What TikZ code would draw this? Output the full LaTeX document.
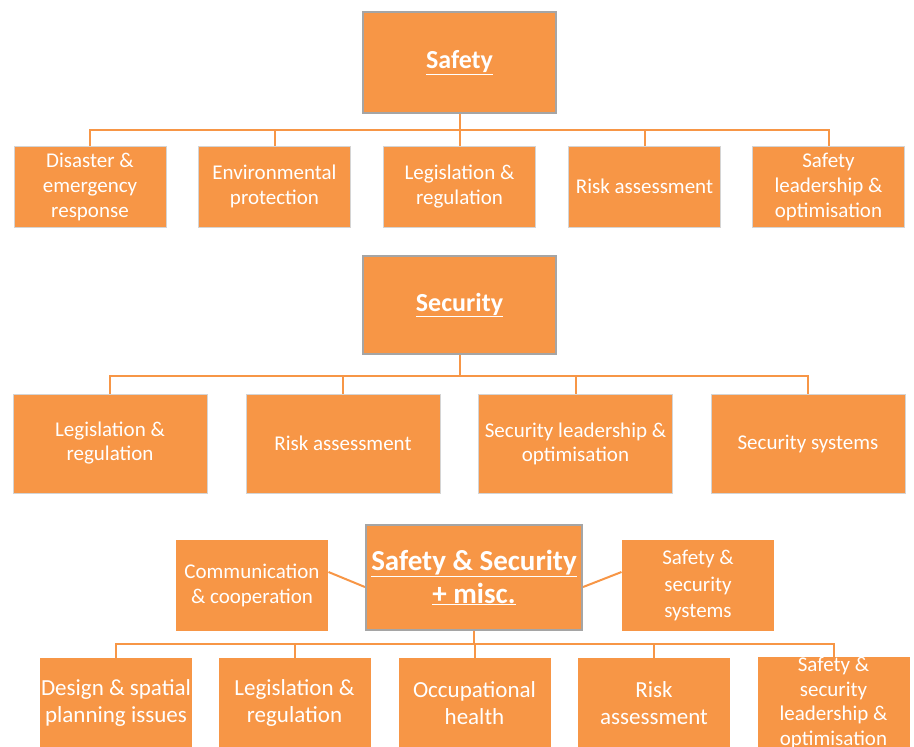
\documentclass[tikz,border=0pt]{standalone}
\usepackage{fontspec}
\setmainfont{Carlito}
\definecolor{boxorange}{HTML}{F79646}
\definecolor{boxgray}{HTML}{A5A5A5}
\definecolor{edgegray}{HTML}{D4D4D4}
\tikzset{every picture/.style={line width=0.75pt}}
\tikzset{
  topic/.style={fill=boxorange, draw=boxgray, line width=2.5pt, text=white, align=center, inner sep=0pt, font=\bfseries\fontsize{26}{30}\selectfont},
  sub/.style={fill=boxorange, draw=edgegray, line width=1pt, text=white, align=center, inner sep=0pt, minimum width=152pt, minimum height=81pt, font=\fontsize{21}{25}\selectfont},
  link/.style={draw=boxorange, line width=2pt},
}

\begin{document}
\begin{tikzpicture}[x=1pt,y=1pt,yscale=-1,xscale=1]
\useasboundingbox (0,0) rectangle (914,747);

% Safety
\node [topic, minimum width=193pt, minimum height=101pt] (safety) at (459.5,62.5) {\underline{Safety}};
\node [sub] (sa1) at (90,186.5) {Disaster \&\\emergency\\response};
\node [sub] (sa2) at (274.5,186.5) {Environmental\\protection};
\node [sub] (sa3) at (459.5,186.5) {Legislation \&\\regulation};
\node [sub] (sa4) at (644.5,186.5) {Risk assessment};
\node [sub] (sa5) at (828.5,186.5) {Safety\\leadership \&\\optimisation};
\foreach \c in {sa1,sa2,sa3,sa4,sa5}
  \draw [link] (safety.south) -- ++(0,16) -| (\c.north) ;

% Security
\node [topic, minimum width=193pt, minimum height=98pt] (security) at (459.5,305) {\underline{Security}};
\node [sub, minimum width=194pt, minimum height=99pt, font=\fontsize{21}{24}\selectfont] (se1) at (110,443.5) {Legislation \&\\regulation};
\node [sub, minimum width=194pt, minimum height=99pt, font=\fontsize{21}{24}\selectfont] (se2) at (343,443.5) {Risk assessment};
\node [sub, minimum width=194pt, minimum height=99pt, font=\fontsize{21}{24}\selectfont] (se3) at (575.5,443.5) {Security leadership \&\\optimisation};
\node [sub, minimum width=194pt, minimum height=99pt, font=\fontsize{21}{24}\selectfont] (se4) at (808,443.5) {Security systems};
\foreach \c in {se1,se2,se3,se4}
  \draw [link] (security.south) -- ++(0,21) -| (\c.north) ;

% Safety & Security + misc.
\node [topic, line width=2pt, minimum width=216pt, minimum height=105pt, font=\bfseries\fontsize{29}{33}\selectfont] (both) at (474,577.5) {\underline{Safety \& Security}\\\underline{+ misc.}};
\node [sub, draw=none, minimum height=91pt] (comm) at (252,585.5) {Communication\\\& cooperation};
\node [sub, draw=none, minimum height=91pt, font=\fontsize{21}{26.5}\selectfont] (sys) at (698,585.5) {Safety \&\\security\\systems};
\draw [link] (comm.10) -- (both.185) ;
\draw [link] (both.-5) -- (sys.170) ;

\node [sub, draw=none, minimum height=90pt, font=\fontsize{23}{27}\selectfont] (bo1) at (116,703) {Design \& spatial\\planning issues};
\node [sub, draw=none, minimum height=90pt, font=\fontsize{23}{27}\selectfont] (bo2) at (294.5,703) {Legislation \&\\regulation};
\node [sub, draw=none, minimum height=90pt, font=\fontsize{23}{27}\selectfont] (bo3) at (474.5,703) {Occupational\\health};
\node [sub, draw=none, minimum height=90pt, font=\fontsize{23}{27}\selectfont] (bo4) at (654,703) {Risk\\assessment};
\node [sub, draw=none, minimum height=90pt, font=\fontsize{21}{24.5}\selectfont] (bo5) at (833.5,703) {Safety \&\\security\\leadership \&\\optimisation};
\foreach \c in {bo1,bo2,bo3,bo4,bo5}
  \draw [link] (both.south) -- ++(0,13) -| (\c.north) ;
\end{tikzpicture}
\end{document}
